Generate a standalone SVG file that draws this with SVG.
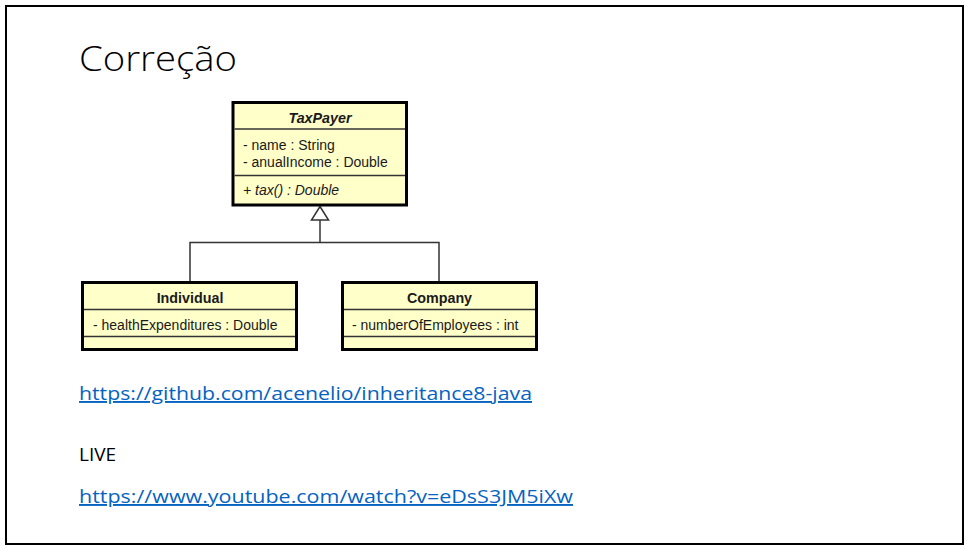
<svg xmlns="http://www.w3.org/2000/svg" width="967" height="549" viewBox="0 0 967 549">
<style>
.cls{fill:#FFFFCA;stroke:#000;stroke-width:3}
.sep{stroke:#333;stroke-width:1.5;fill:none}
.t{font-family:"Liberation Sans",Arial,sans-serif;font-size:14px;fill:#1a1a1a}
.b{font-weight:bold;text-anchor:middle;font-size:14.3px}
.i{font-style:italic}
.edge{stroke:#333;stroke-width:1.5;fill:none}
.link{font-family:"Open Sans",sans-serif;font-size:19px;fill:#0563C1;text-decoration:underline}
.txt{font-family:"Open Sans",sans-serif;font-size:19px;fill:#000}
</style>
<rect x="6" y="6" width="957" height="538" fill="#fff" stroke="#000" stroke-width="2"/>
<text x="79" y="71" font-family="Open Sans, sans-serif" font-weight="300" font-size="35" fill="#000" textLength="158" lengthAdjust="spacingAndGlyphs">Correção</text>
<g id="connectors">
<polyline class="edge" points="190,282 190,242.5 439,242.5 439,282"/>
<path class="edge" d="M320,242.5 L320,220"/>
<path d="M320,206.5 L328.5,220 L311.5,220 Z" fill="#fff" stroke="#333" stroke-width="1.5"/>
</g>
<g id="TaxPayer">
<rect class="cls" x="233" y="102.5" width="173.5" height="102.5"/>
<line class="sep" x1="234.5" y1="129" x2="405" y2="129"/>
<line class="sep" x1="234.5" y1="175.5" x2="405" y2="175.5"/>
<text class="t b i" x="320" y="122.5">TaxPayer</text>
<text class="t" x="243" y="150">- name : String</text>
<text class="t" x="243" y="167">- anualIncome : Double</text>
<text class="t i" x="243" y="194.5">+ tax() : Double</text>
</g>
<g id="Individual">
<rect class="cls" x="82.5" y="282.5" width="214" height="67"/>
<line class="sep" x1="84" y1="309.5" x2="295" y2="309.5"/>
<line class="sep" x1="84" y1="336.5" x2="295" y2="336.5"/>
<text class="t b" x="190" y="302.5">Individual</text>
<text class="t" x="93" y="330">- healthExpenditures : Double</text>
</g>
<g id="Company">
<rect class="cls" x="342.5" y="282.5" width="194" height="67"/>
<line class="sep" x1="344" y1="309.5" x2="535" y2="309.5"/>
<line class="sep" x1="344" y1="336.5" x2="535" y2="336.5"/>
<text class="t b" x="439.5" y="302.5">Company</text>
<text class="t" x="352" y="330">- numberOfEmployees : int</text>
</g>
<text class="link" x="79" y="400" textLength="453" lengthAdjust="spacingAndGlyphs">https://github.com/acenelio/inheritance8-java</text>
<text class="txt" x="79" y="461">LIVE</text>
<text class="link" x="79" y="503" textLength="494" lengthAdjust="spacingAndGlyphs">https://www.youtube.com/watch?v=eDsS3JM5iXw</text>
</svg>
